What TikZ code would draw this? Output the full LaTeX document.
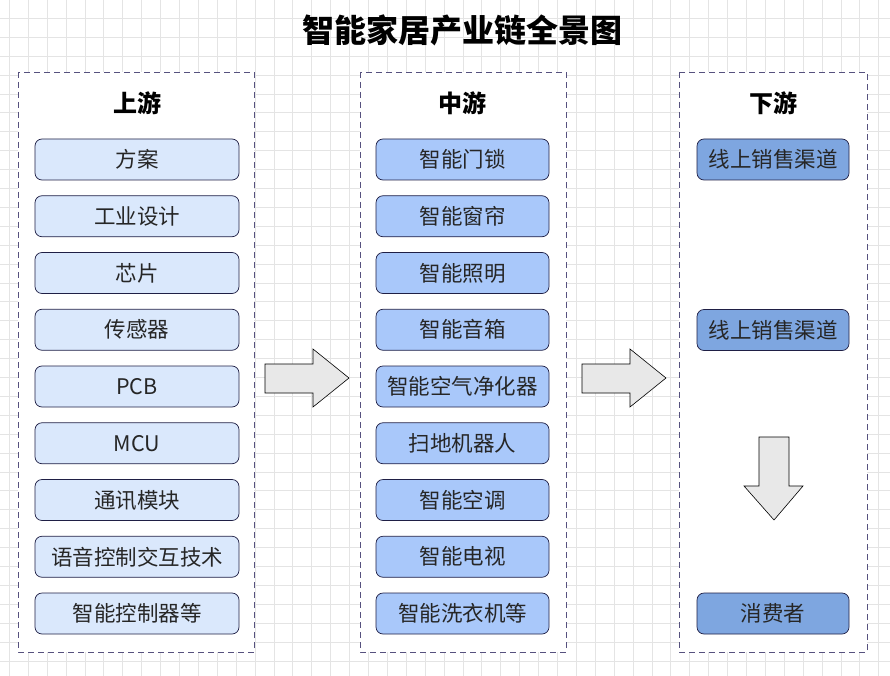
\documentclass[tikz,border=0pt]{standalone}
\usepackage{fontspec}
\setmainfont{Noto Sans CJK SC}
\usetikzlibrary{positioning}
\definecolor{gridgray}{HTML}{E4E4E4}
\definecolor{panelline}{HTML}{56517E}
\definecolor{boxline}{HTML}{1F1F45}
\definecolor{upfill}{HTML}{DAE8FC}
\definecolor{midfill}{HTML}{A9C8FA}
\definecolor{downfill}{HTML}{7EA6E0}
\definecolor{arrowfill}{HTML}{E8E8E8}

\begin{document}
\begin{tikzpicture}[x=1pt,y=-1pt,
  gridline/.style={draw=gridgray,line width=0.7pt},
  panel/.style={draw=panelline,dash pattern=on 6pt off 4pt,fill=white,
    line width=0.9pt},
  item/.style={draw=boxline,rounded corners=7pt,minimum height=41pt,
    inner sep=0pt,line width=0.7pt,text=black!85,
    font=\fontsize{21.5}{25}\selectfont},
  upbox/.style={item,fill=upfill,minimum width=204pt},
  midbox/.style={item,fill=midfill,minimum width=173pt},
  downbox/.style={item,fill=downfill,minimum width=152pt},
  header/.style={font=\fontsize{24}{28}\selectfont\bfseries},
  blockarrow/.style={draw=black,fill=arrowfill,line width=0.6pt}]

  \useasboundingbox (0,0) rectangle (890,676);
  \fill[white] (0,0) rectangle (890,676);

  % background grid
  \foreach \k in {0,...,46}
    \draw[gridline] (9.3+18.9*\k,0) -- (9.3+18.9*\k,676);
  \foreach \k in {0,...,35}
    \draw[gridline] (0,-0.6+18.9*\k) -- (890,-0.6+18.9*\k);

  \node[font=\fontsize{32}{36}\selectfont\bfseries] (title) at (462,30)
    {智能家居产业链全景图};

  % three stages
  \draw[panel] (18,72) rectangle (254,652);
  \draw[panel] (360,72) rectangle (566,652);
  \draw[panel] (679,72) rectangle (867,652);

  \node[header] (up) at (137,103) {上游};
  \node[header] (mid) at (462,103) {中游};
  \node[header] (down) at (773,103) {下游};

  \foreach \txt [count=\i] in {方案,工业设计,芯片,传感器,PCB,MCU,通讯模块,
    语音控制交互技术,智能控制器等}
    \node[upbox] (up\i) at (137,{159.5+56.75*(\i-1)}) {\txt};

  \foreach \txt [count=\i] in {智能门锁,智能窗帘,智能照明,智能音箱,
    智能空气净化器,扫地机器人,智能空调,智能电视,智能洗衣机等}
    \node[midbox] (mid\i) at (462.5,{159.5+56.75*(\i-1)}) {\txt};

  \node[downbox] (down1) at (773,159.5) {线上销售渠道};
  \node[downbox] (down2) at (773,330) {线上销售渠道};
  \node[downbox] (down3) at (773,613.5) {消费者};

  % block arrows
  \draw[blockarrow] (265,364) -- (313,364) -- (313,349) -- (349,378)
    -- (313,407) -- (313,393) -- (265,393) -- cycle;
  \draw[blockarrow] (582,364) -- (630,364) -- (630,349) -- (666,378)
    -- (630,407) -- (630,393) -- (582,393) -- cycle;
  \draw[blockarrow] (759,437) -- (789,437) -- (789,486) -- (803,486)
    -- (774,520) -- (744,486) -- (759,486) -- cycle;

\end{tikzpicture}
\end{document}
